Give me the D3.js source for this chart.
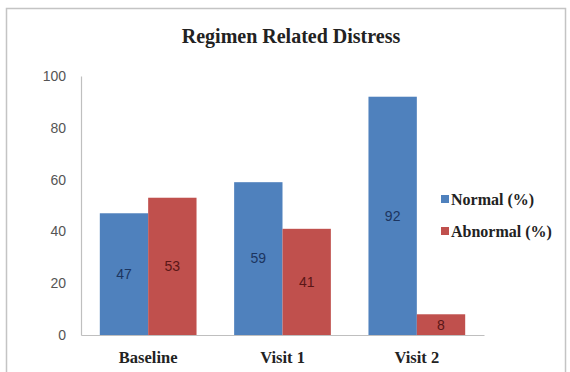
<!DOCTYPE html>
<html>
<head>
<meta charset="utf-8">
<script src="https://cdn.jsdelivr.net/npm/d3@7"></script>
<style>
  html, body { margin: 0; padding: 0; background: #fff; }
  svg { display: block; }
</style>
</head>
<body>
<svg id="chart" width="570" height="372"></svg>
<script>
// Chart data
const categories = ["Baseline", "Visit 1", "Visit 2"];
const seriesNames = ["Normal (%)", "Abnormal (%)"];
const normalValues = [47, 59, 92];
const abnormalValues = [53, 41, 8];
const yTicks = [0, 20, 40, 60, 80, 100];
const titleText = "Regimen Related Distress";

const colors = ["#4f81bd", "#c0504d"];
const labelColors = ["#1c3560", "#5a1616"];

const svg = d3.select("#chart");

// Outer frame
svg.append("rect")
  .attr("x", 6.5).attr("y", 8.5)
  .attr("width", 559).attr("height", 372)
  .attr("fill", "#fff")
  .attr("stroke", "#c4c4c4").attr("stroke-width", 1.5);

const plot = { left: 81, right: 484, top: 76, bottom: 335 };

const x0 = d3.scaleBand()
  .domain(categories)
  .range([plot.left, plot.right])
  .paddingInner(0.28).paddingOuter(0.14);

const x1 = d3.scaleBand()
  .domain(seriesNames)
  .range([0, x0.bandwidth()]);

const y = d3.scaleLinear()
  .domain([0, 100])
  .range([plot.bottom, plot.top]);

// Title
svg.append("text")
  .attr("x", 291).attr("y", 43)
  .attr("text-anchor", "middle")
  .attr("font-family", "'Liberation Serif', 'Times New Roman', serif")
  .attr("font-weight", "bold")
  .attr("font-size", 20)
  .attr("fill", "#222")
  .text(titleText);

// Y axis
const yAxis = d3.axisLeft(y).tickValues(yTicks).tickSize(0).tickPadding(15);
const gy = svg.append("g")
  .attr("transform", `translate(${plot.left},0)`)
  .call(yAxis);
gy.select(".domain").attr("stroke", "#bfbfbf").attr("stroke-width", 1.2);
gy.selectAll("text")
  .attr("font-family", "'Liberation Sans', Arial, sans-serif")
  .attr("font-size", 14)
  .attr("fill", "#555");

// Bars
const rows = categories.map((c, i) => ({
  cat: c,
  vals: [normalValues[i], abnormalValues[i]]
}));

const groups = svg.append("g").selectAll("g")
  .data(rows)
  .join("g")
  .attr("transform", d => `translate(${x0(d.cat)},0)`);

groups.selectAll("rect")
  .data(d => d.vals.map((v, j) => ({ key: seriesNames[j], v, j })))
  .join("rect")
  .attr("x", d => x1(d.key))
  .attr("y", d => y(d.v))
  .attr("width", x1.bandwidth())
  .attr("height", d => y(0) - y(d.v))
  .attr("fill", d => colors[d.j]);

// Value labels centred in each bar
groups.selectAll("text.val")
  .data(d => d.vals.map((v, j) => ({ key: seriesNames[j], v, j })))
  .join("text")
  .attr("class", "val")
  .attr("x", d => x1(d.key) + x1.bandwidth() / 2)
  .attr("y", d => (y(d.v) + y(0)) / 2)
  .attr("dy", "0.35em")
  .attr("text-anchor", "middle")
  .attr("font-family", "'Liberation Sans', Arial, sans-serif")
  .attr("font-size", 14)
  .attr("fill", d => labelColors[d.j])
  .text(d => d.v);

// X axis baseline and category labels
const xAxis = d3.axisBottom(x0).tickSize(0).tickPadding(16);
const gx = svg.append("g")
  .attr("transform", `translate(0,${plot.bottom})`)
  .call(xAxis);
gx.select(".domain").attr("stroke", "#bfbfbf").attr("stroke-width", 1.2);
gx.selectAll("text")
  .attr("font-family", "'Liberation Serif', 'Times New Roman', serif")
  .attr("font-weight", "bold")
  .attr("font-size", 16.5)
  .attr("fill", "#222");

// Legend
const legend = svg.append("g").attr("transform", "translate(441,199)");
const items = legend.selectAll("g")
  .data(seriesNames)
  .join("g")
  .attr("transform", (d, i) => `translate(0,${i * 32})`);
items.append("rect")
  .attr("x", 0).attr("y", -4)
  .attr("width", 8).attr("height", 8)
  .attr("fill", (d, i) => colors[i]);
items.append("text")
  .attr("x", 10).attr("y", 0)
  .attr("dy", "0.35em")
  .attr("font-family", "'Liberation Serif', 'Times New Roman', serif")
  .attr("font-weight", "bold")
  .attr("font-size", 16)
  .attr("fill", "#222")
  .text(d => d);
</script>
</body>
</html>
